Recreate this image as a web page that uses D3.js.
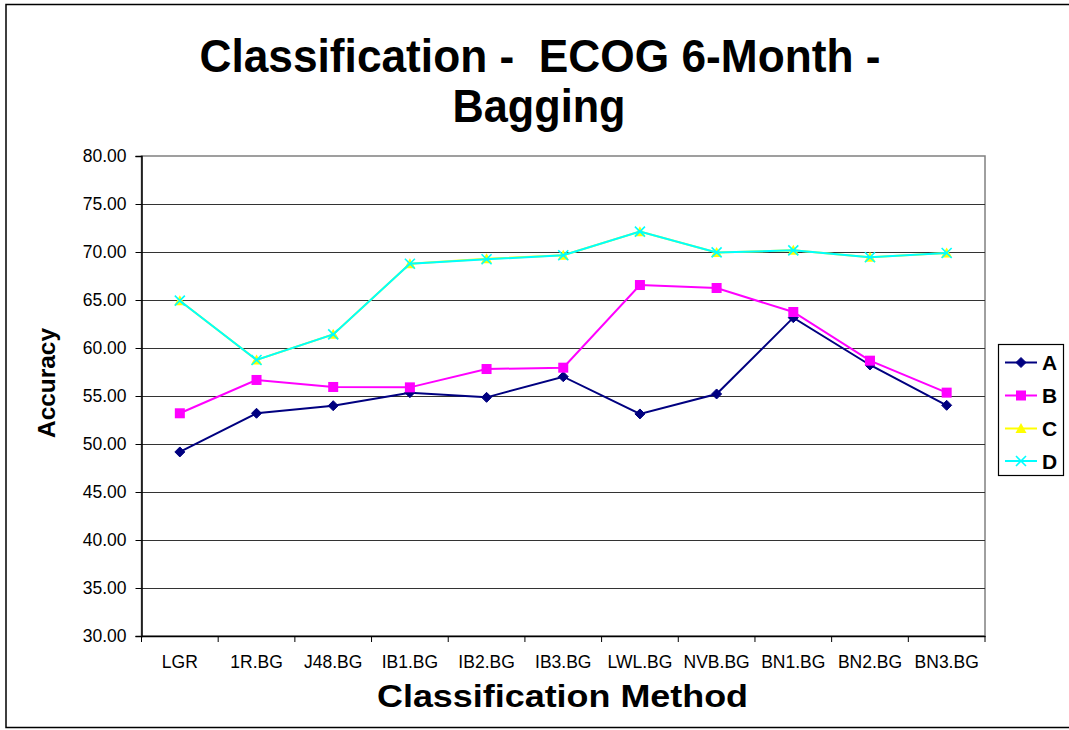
<!DOCTYPE html>
<html>
<head>
<meta charset="utf-8">
<script src="https://cdn.jsdelivr.net/npm/d3@7"></script>
<style>
  html, body { margin: 0; padding: 0; background: #fff; }
  svg { display: block; font-family: "Liberation Sans", Arial, sans-serif; }
  text { white-space: pre; }
</style>
</head>
<body>
<svg id="chart" width="1069" height="730"></svg>
<script>
// Classification methods (bagging) on the x axis
const categories = ["LGR", "1R.BG", "J48.BG", "IB1.BG", "IB2.BG", "IB3.BG", "LWL.BG", "NVB.BG", "BN1.BG", "BN2.BG", "BN3.BG"];

// Accuracy per method for each series
const seriesA = [49.17, 53.20, 53.99, 55.35, 54.86, 57.01, 53.13, 55.21, 63.16, 58.23, 54.03];
const seriesB = [53.20, 56.67, 55.94, 55.90, 57.81, 57.95, 66.56, 66.25, 63.75, 58.68, 55.35];
const seriesC = [64.93, 58.75, 61.42, 68.78, 69.30, 69.66, 72.12, 69.96, 70.17, 69.45, 69.90];
const seriesD = [64.93, 58.75, 61.42, 68.78, 69.24, 69.66, 72.12, 69.96, 70.17, 69.45, 69.90];
const seriesNames = ["A", "B", "C", "D"];

const yTicks = [30, 35, 40, 45, 50, 55, 60, 65, 70, 75, 80];

const series = [
  { name: seriesNames[0], values: seriesA, color: "#000080", marker: "diamond" },
  { name: seriesNames[1], values: seriesB, color: "#FF00FF", marker: "square" },
  { name: seriesNames[2], values: seriesC, color: "#FFFF00", marker: "triangle" },
  { name: seriesNames[3], values: seriesD, color: "#00FFFF", marker: "x" }
];

const svg = d3.select("#chart");

// outer chart frame (runs off the right edge)
svg.append("rect")
  .attr("x", 6).attr("y", 4.5).attr("width", 1080).attr("height", 723)
  .attr("fill", "#fff").attr("stroke", "#000").attr("stroke-width", 1.5);

const plot = { left: 141.5, top: 156, right: 985, bottom: 636 };

const x = d3.scaleBand().domain(categories).range([plot.left, plot.right]).padding(0);
const y = d3.scaleLinear().domain([30, 80]).range([plot.bottom, plot.top]);

// plot area border
svg.append("rect")
  .attr("x", plot.left).attr("y", plot.top)
  .attr("width", plot.right - plot.left).attr("height", plot.bottom - plot.top)
  .attr("fill", "none").attr("stroke", "#808080").attr("stroke-width", 1.5);

// horizontal gridlines
svg.append("g").selectAll("line")
  .data(yTicks.filter(t => t > 30 && t < 80))
  .join("line")
  .attr("x1", plot.left).attr("x2", plot.right)
  .attr("y1", d => Math.round(y(d)) + 0.5).attr("y2", d => Math.round(y(d)) + 0.5)
  .attr("stroke", "#333").attr("stroke-width", 1.2);

// y axis
const yAxis = svg.append("g")
  .attr("transform", `translate(${plot.left},0)`)
  .call(d3.axisLeft(y).tickValues(yTicks).tickFormat(d3.format(".2f")).tickSize(6).tickPadding(9));
yAxis.select(".domain").attr("stroke", "#000").attr("stroke-width", 1.5);
yAxis.selectAll(".tick line").attr("stroke", "#000");
yAxis.selectAll(".tick text")
  .attr("font-size", 17.5).attr("fill", "#000")
  .attr("font-family", "Liberation Sans, Arial, sans-serif");

// x axis with ticks at category boundaries
const xAxis = svg.append("g")
  .attr("transform", `translate(0,${plot.bottom})`)
  .call(d3.axisBottom(x).tickSize(0).tickPadding(20));
xAxis.select(".domain").attr("stroke", "#000").attr("stroke-width", 1.5);
xAxis.selectAll(".tick text")
  .attr("font-size", 17.5).attr("fill", "#000")
  .attr("font-family", "Liberation Sans, Arial, sans-serif");
const bounds = categories.map(c => x(c)).concat([x(categories[categories.length - 1]) + x.bandwidth()]);
svg.append("g").selectAll("line")
  .data(bounds)
  .join("line")
  .attr("x1", d => d).attr("x2", d => d)
  .attr("y1", plot.bottom).attr("y2", plot.bottom + 6)
  .attr("stroke", "#000").attr("stroke-width", 1);

const cx = c => x(c) + x.bandwidth() / 2;

function drawMarker(g, type, color, px, py) {
  if (type === "diamond") {
    g.append("path")
      .attr("d", `M${px},${py - 5}L${px + 5},${py}L${px},${py + 5}L${px - 5},${py}Z`)
      .attr("fill", color).attr("stroke", color);
  } else if (type === "square") {
    g.append("rect")
      .attr("x", px - 5).attr("y", py - 5).attr("width", 10).attr("height", 10)
      .attr("fill", color);
  } else if (type === "triangle") {
    g.append("path")
      .attr("d", `M${px},${py - 5.5}L${px + 5.5},${py + 4.5}L${px - 5.5},${py + 4.5}Z`)
      .attr("fill", color);
  } else if (type === "x") {
    g.append("path")
      .attr("d", `M${px - 5},${py - 5}L${px + 5},${py + 5}M${px + 5},${py - 5}L${px - 5},${py + 5}`)
      .attr("stroke", color).attr("stroke-width", 1.6).attr("fill", "none");
  }
}

const line = d3.line().x((d, i) => cx(categories[i])).y(d => y(d));

series.forEach(s => {
  const g = svg.append("g");
  g.append("path")
    .datum(s.values)
    .attr("d", line)
    .attr("fill", "none")
    .attr("stroke", s.color)
    .attr("stroke-width", 2);
  s.values.forEach((v, i) => drawMarker(g, s.marker, s.color, cx(categories[i]), y(v)));
});

// legend
const legend = svg.append("g");
legend.append("rect")
  .attr("x", 998.5).attr("y", 344.5).attr("width", 65).attr("height", 131)
  .attr("fill", "#fff").attr("stroke", "#000").attr("stroke-width", 1.2);
const legendRows = [362.5, 395.5, 428.5, 461];
series.forEach((s, i) => {
  const ly = legendRows[i];
  legend.append("line")
    .attr("x1", 1005).attr("x2", 1037).attr("y1", ly).attr("y2", ly)
    .attr("stroke", s.color).attr("stroke-width", 2);
  drawMarker(legend, s.marker, s.color, 1021, ly);
  legend.append("text")
    .attr("x", 1042).attr("y", ly + 7.5)
    .attr("font-size", 21).attr("font-weight", "bold")
    .text(s.name);
});

// titles
svg.append("text")
  .attr("x", 540).attr("y", 72)
  .attr("text-anchor", "middle")
  .attr("font-size", 47).attr("font-weight", "bold")
  .attr("textLength", 681).attr("lengthAdjust", "spacingAndGlyphs")
  .text("Classification -  ECOG 6-Month -");
svg.append("text")
  .attr("x", 539).attr("y", 122)
  .attr("text-anchor", "middle")
  .attr("font-size", 47).attr("font-weight", "bold")
  .attr("textLength", 173).attr("lengthAdjust", "spacingAndGlyphs")
  .text("Bagging");

svg.append("text")
  .attr("x", 562.5).attr("y", 707)
  .attr("text-anchor", "middle")
  .attr("font-size", 31).attr("font-weight", "bold")
  .attr("textLength", 371).attr("lengthAdjust", "spacingAndGlyphs")
  .text("Classification Method");

svg.append("text")
  .attr("transform", "translate(55,383) rotate(-90)")
  .attr("text-anchor", "middle")
  .attr("font-size", 23).attr("font-weight", "bold")
  .attr("textLength", 110).attr("lengthAdjust", "spacingAndGlyphs")
  .text("Accuracy");
</script>
</body>
</html>
